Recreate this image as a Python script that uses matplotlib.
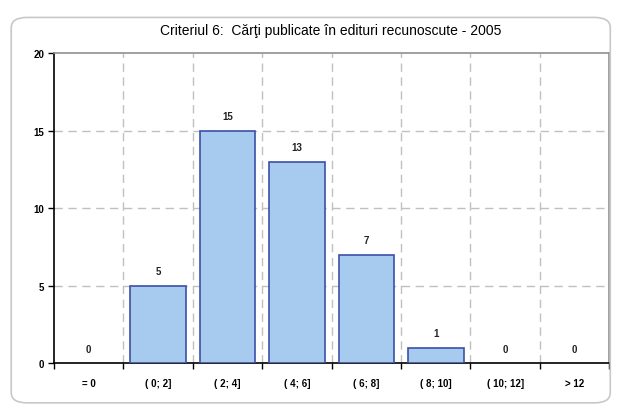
import matplotlib
matplotlib.use('Agg')
import matplotlib.pyplot as plt
from matplotlib.patches import FancyBboxPatch

categories = ['= 0', '( 0; 2]', '( 2; 4]', '( 4; 6]', '( 6; 8]', '( 8; 10]', '( 10; 12]', '> 12']
values = [0, 5, 15, 13, 7, 1, 0, 0]
y_ticks = [0, 5, 10, 15, 20]

plt.rcParams['font.family'] = ['Liberation Sans', 'DejaVu Sans']

fig = plt.figure(figsize=(6.24, 4.10), dpi=100)
ax = fig.add_axes([0.0865, 0.112, 0.89, 0.756])

# rounded outer frame
frame = FancyBboxPatch((0.018, 0.015), 0.96, 0.94, boxstyle='round,pad=0,rounding_size=0.025',
                       transform=fig.transFigure, facecolor='none', edgecolor='#c8c8c8',
                       linewidth=1.2, zorder=0)
fig.patches.append(frame)

x = range(len(categories))
bars = ax.bar(x, values, width=0.8, color='#a6cbee', edgecolor='#3c4fa8', linewidth=1.2, zorder=3)
for b, v in zip(bars, values):
    if v == 0:
        b.set_linewidth(0)
for i, v in enumerate(values):
    ax.text(i, v + 0.6, str(v), ha='center', va='bottom', fontsize=7, fontweight='bold', color='#222222')

ax.set_xlim(-0.5, len(categories) - 0.5)
ax.set_ylim(0, 20)
ax.set_yticks(y_ticks)
ax.set_yticklabels([str(t) for t in y_ticks], fontsize=7, fontweight='bold')

# ticks at category boundaries, labels centred
ax.set_xticks([i - 0.5 for i in range(len(categories) + 1)])
ax.set_xticklabels([])
ax.set_xticks(list(x), minor=True)
ax.set_xticklabels(categories, minor=True, fontsize=7, fontweight='bold')
ax.tick_params(axis='x', which='minor', length=0, pad=11)
ax.tick_params(axis='x', which='major', length=4, width=1)
ax.tick_params(axis='y', length=4, width=1, pad=3)

for b in [i + 0.5 for i in range(len(categories) - 1)]:
    ax.axvline(b, color='#c0c0c0', linestyle=(0, (6, 4)), linewidth=1, zorder=1)
for t in y_ticks[1:-1]:
    ax.axhline(t, color='#c0c0c0', linestyle=(0, (6, 4)), linewidth=1, zorder=1)

ax.spines['left'].set_color('black')
ax.spines['bottom'].set_color('black')
ax.spines['top'].set_color('#909090')
ax.spines['right'].set_color('#909090')
for s in ax.spines.values():
    s.set_linewidth(1.2)

fig.text(0.53, 0.925, 'Criteriul 6:  Cărţi publicate în edituri recunoscute - 2005',
         ha='center', va='center', fontsize=10)

plt.savefig('out.png', dpi=100)
